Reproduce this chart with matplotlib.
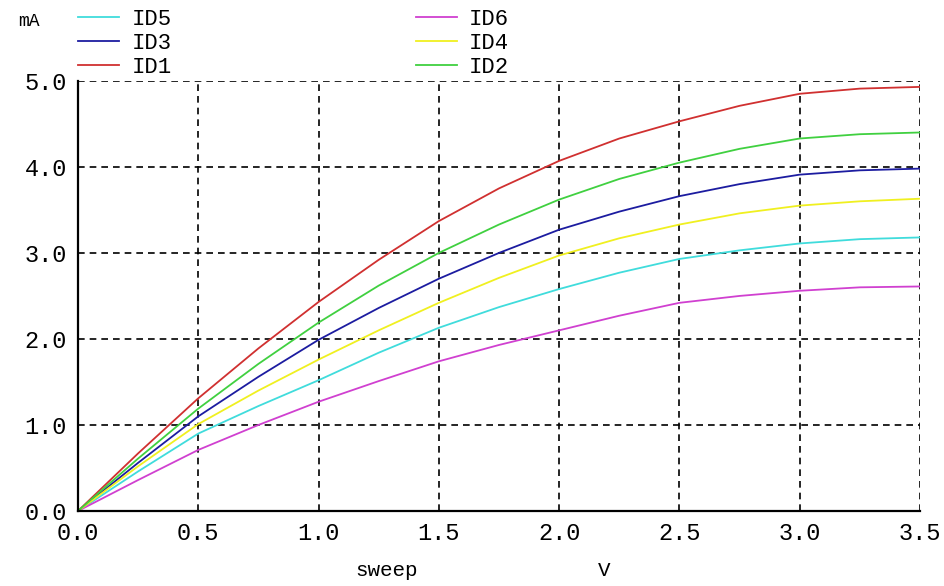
import matplotlib
matplotlib.use('Agg')
import matplotlib.pyplot as plt

sweep = [0.0, 0.25, 0.5, 0.75, 1.0, 1.25, 1.5, 1.75, 2.0, 2.25, 2.5, 2.75, 3.0, 3.25, 3.5]

id1 = [0, 0.67, 1.31, 1.89, 2.43, 2.92, 3.37, 3.75, 4.07, 4.33, 4.53, 4.71, 4.85, 4.91, 4.93]
id2 = [0, 0.61, 1.19, 1.71, 2.19, 2.62, 3.00, 3.33, 3.62, 3.86, 4.05, 4.21, 4.33, 4.38, 4.40]
id3 = [0, 0.56, 1.10, 1.56, 1.99, 2.36, 2.70, 3.00, 3.27, 3.48, 3.66, 3.80, 3.91, 3.96, 3.98]
id4 = [0, 0.52, 1.01, 1.40, 1.76, 2.10, 2.42, 2.71, 2.97, 3.17, 3.33, 3.46, 3.55, 3.60, 3.63]
id5 = [0, 0.46, 0.90, 1.22, 1.52, 1.84, 2.13, 2.37, 2.58, 2.77, 2.93, 3.03, 3.11, 3.16, 3.18]
id6 = [0, 0.36, 0.71, 1.00, 1.27, 1.51, 1.74, 1.93, 2.10, 2.27, 2.42, 2.50, 2.56, 2.60, 2.61]

x_ticks = [0.0, 0.5, 1.0, 1.5, 2.0, 2.5, 3.0, 3.5]
y_ticks = [0.0, 1.0, 2.0, 3.0, 4.0, 5.0]

mono = 'Liberation Mono'

fig = plt.figure(figsize=(9.44, 5.86), dpi=100)
ax = fig.add_axes([0.0826, 0.128, 0.892, 0.734])

l5, = ax.plot(sweep, id5, color='#40dcdc', lw=1.3, label='ID5')
l3, = ax.plot(sweep, id3, color='#1c1ca0', lw=1.3, label='ID3')
l1, = ax.plot(sweep, id1, color='#d03030', lw=1.3, label='ID1')
l6, = ax.plot(sweep, id6, color='#d040d0', lw=1.3, label='ID6')
l4, = ax.plot(sweep, id4, color='#f0f020', lw=1.3, label='ID4')
l2, = ax.plot(sweep, id2, color='#40d040', lw=1.3, label='ID2')

ax.set_xlim(0, 3.5)
ax.set_ylim(0, 5.0)
ax.set_xticks(x_ticks)
ax.set_yticks(y_ticks)
ax.set_xticklabels(['%.1f' % v for v in x_ticks], family=mono, fontsize=17)
ax.set_yticklabels(['%.1f' % v for v in y_ticks], family=mono, fontsize=17)
ax.tick_params(length=0, pad=8)
ax.grid(True, color='black', linestyle=(0, (4, 3)), lw=1.2)
ax.set_axisbelow(True)
for s in ['top', 'right']:
    ax.spines[s].set_visible(False)
for s in ['left', 'bottom']:
    ax.spines[s].set_linewidth(1.6)

fig.text(0.019, 0.963, 'mA', family=mono, fontsize=13, va='center')
fig.text(0.41, 0.026, 'sweep', family=mono, fontsize=15, ha='center', va='center')
fig.text(0.64, 0.026, 'V', family=mono, fontsize=15, ha='center', va='center')

fig.legend(handles=[l5, l3, l1, l6, l4, l2], ncol=2, frameon=False,
           loc='upper left', bbox_to_anchor=(0.0826, 0.985),
           prop={'family': mono, 'size': 16}, handlelength=1.85,
           handletextpad=0.55, labelspacing=0.14, columnspacing=11.0,
           borderaxespad=0, borderpad=0)

fig.savefig('out.png', dpi=100, facecolor='white')
